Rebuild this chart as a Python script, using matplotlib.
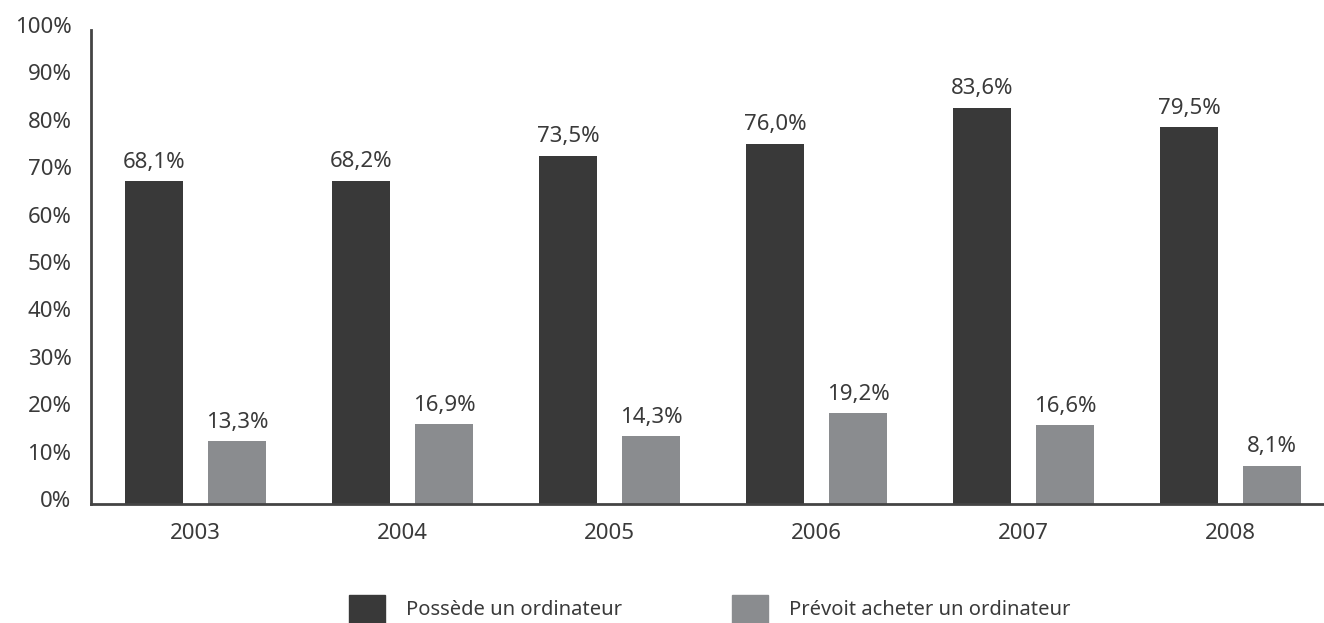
import numpy as np
import matplotlib
matplotlib.use("Agg")
import matplotlib.pyplot as plt
import matplotlib.transforms as mtransforms
from matplotlib.patches import Patch

plt.rcParams['font.family'] = ['Noto Sans', 'DejaVu Sans']

# Données
years = ['2003', '2004', '2005', '2006', '2007', '2008']
possede = [68.1, 68.2, 73.5, 76.0, 83.6, 79.5]
prevoit = [13.3, 16.9, 14.3, 19.2, 16.6, 8.1]
series_names = ['Possède un ordinateur', 'Prévoit acheter un ordinateur']

dark = '#393939'
grey = '#8a8c8f'
txt = '#3a3a3a'
fs = 16

fig = plt.figure(figsize=(13.24, 6.23), dpi=100)
ax = fig.add_axes([0.0687, 0.191, 0.9313, 0.761])

x = np.arange(len(years))
w = 0.28
b1 = ax.bar(x - 0.2, possede, w, color=dark)
b2 = ax.bar(x + 0.2, prevoit, w, color=grey)

for bars, vals in ((b1, possede), (b2, prevoit)):
    for rect, v in zip(bars, vals):
        ax.annotate(f"{v:.1f}%".replace('.', ','),
                    (rect.get_x() + rect.get_width() / 2, v),
                    xytext=(0, 6), textcoords='offset points',
                    ha='center', va='bottom', fontsize=fs, color=txt)

ax.set_xlim(-0.505, 5.45)
ax.set_ylim(0, 100)
ax.set_yticks(np.arange(0, 101, 10))
ax.set_yticklabels([f"{t}%" for t in range(0, 101, 10)])
ax.set_xticks(x)
ax.set_xticklabels(years)
ax.tick_params(axis='both', length=0, labelsize=fs, colors=txt)
ax.tick_params(axis='y', pad=14)
ax.tick_params(axis='x', pad=14)

# y labels sit a little above their gridline
shift = mtransforms.ScaledTranslation(0, 5 / 100, fig.dpi_scale_trans)
for lab in ax.get_yticklabels():
    lab.set_transform(lab.get_transform() + shift)

for s in ('top', 'right'):
    ax.spines[s].set_visible(False)
for s in ('left', 'bottom'):
    ax.spines[s].set_linewidth(2)
    ax.spines[s].set_color('#444444')

handles = [Patch(color=dark), Patch(color=grey)]
fig.legend(handles, series_names, loc='center', ncol=2,
           bbox_to_anchor=(0.536, 0.0225), frameon=False, fontsize=14.5,
           handlelength=1.79, handleheight=1.79, handletextpad=1.04,
           columnspacing=5.5, labelcolor=txt)

fig.savefig('out.png', dpi=100)
